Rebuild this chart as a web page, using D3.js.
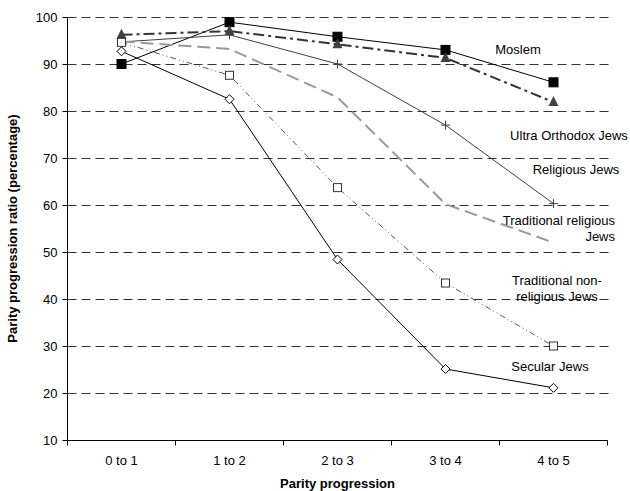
<!DOCTYPE html>
<html><head><meta charset="utf-8">
<script src="https://cdn.jsdelivr.net/npm/d3@7"></script>
<style>body{margin:0;background:#fff}svg{display:block;font-family:Arial,"Liberation Sans",sans-serif}</style>
</head><body><svg id="c" width="630" height="491"></svg>
<script>
const categories = ["0 to 1","1 to 2","2 to 3","3 to 4","4 to 5"];
const yTicks = [10,20,30,40,50,60,70,80,90,100];
const moslem = [90.0, 98.9, 95.8, 93.0, 86.1];
const ultraOrthodox = [96.2, 97.0, 94.2, 91.3, 81.9];
const religious = [94.7, 96.2, 90.0, 77.0, 60.3];
const traditionalReligious = [94.8, 93.2, 82.9, 60.2, 52.0];
const traditionalNonReligious = [94.6, 87.6, 63.7, 43.4, 30.0];
const secular = [92.7, 82.5, 48.4, 25.1, 21.1];

const series = [
  {name:"Moslem", values:moslem, stroke:"#000", width:1, dash:null, marker:"square", fill:"#000", mstroke:"#000", size:9},
  {name:"Ultra Orthodox Jews", values:ultraOrthodox, stroke:"#333", width:2, dash:"11,4,3,4", marker:"triangle", fill:"#404040", mstroke:"#404040", size:10},
  {name:"Religious Jews", values:religious, stroke:"#404040", width:1, dash:null, marker:"plus", fill:"none", mstroke:"#404040", size:9},
  {name:"Traditional religious Jews", values:traditionalReligious, stroke:"#999", width:2, dash:"13,6", marker:null},
  {name:"Traditional non-religious Jews", values:traditionalNonReligious, stroke:"#555", width:1, dash:"6,3,1,3,1,3", marker:"osquare", fill:"#fff", mstroke:"#333", size:8},
  {name:"Secular Jews", values:secular, stroke:"#000", width:1, dash:null, marker:"diamond", fill:"#fff", mstroke:"#000", size:9}
];

const labels = [
  {lines:["Moslem"], x:518, y:54, anchor:"middle"},
  {lines:["Ultra Orthodox Jews"], x:569, y:140, anchor:"middle"},
  {lines:["Religious Jews"], x:576, y:174, anchor:"middle"},
  {lines:["Traditional religious","Jews"], x:615, y:225, anchor:"end"},
  {lines:["Traditional non-","religious Jews"], x:557, y:285, anchor:"middle"},
  {lines:["Secular Jews"], x:550, y:371, anchor:"middle"}
];

const svg = d3.select("#c");
const L = 67.5, R = 607.5, T = 17, B = 440;
const x = d3.scaleBand().domain(categories).range([L, R]);
const y = d3.scaleLinear().domain([10,100]).range([B, T]);

// gridlines
svg.append("g").selectAll("line").data(yTicks.filter(d=>d>10)).join("line")
  .attr("x1", L).attr("x2", R+1)
  .attr("y1", d=>Math.round(y(d))+0.5).attr("y2", d=>Math.round(y(d))+0.5)
  .attr("stroke","#333").attr("stroke-width",1).attr("stroke-dasharray","9,5");

// axes
const yAxis = svg.append("g").attr("transform",`translate(${L},0)`)
  .call(d3.axisLeft(y).tickValues(yTicks).tickSize(5).tickPadding(5));
const xAxis = svg.append("g").attr("transform",`translate(0,${B+0.5})`)
  .call(d3.axisBottom(x).tickSize(0).tickPadding(15));
const bounds = categories.map(c=>x(c)).concat([R]);
svg.append("g").selectAll("line").data(bounds).join("line")
  .attr("x1",d=>d).attr("x2",d=>d).attr("y1",B+0.5).attr("y2",B+5.5)
  .attr("stroke","#000");
[yAxis,xAxis].forEach(a=>{
  a.selectAll("path").attr("stroke","#000");
  a.selectAll("line").attr("stroke","#000");
  a.selectAll("text").attr("font-size","13px").attr("fill","#000").attr("font-family","Arial, 'Liberation Sans', sans-serif");
});
xAxis.select(".domain").attr("d",`M${L},0H${R}`);
yAxis.select(".domain").attr("d",`M0,${T}V${B}`);

const cx = c => x(c) + x.bandwidth()/2;
const line = d3.line().x((d,i)=>cx(categories[i])).y(d=>y(d));

series.forEach(s=>{
  svg.append("path").datum(s.values).attr("d",line)
    .attr("fill","none").attr("stroke",s.stroke).attr("stroke-width",s.width)
    .attr("stroke-dasharray",s.dash).attr("stroke-linejoin","round");
});
series.forEach(s=>{
  if(!s.marker) return;
  const g = svg.append("g");
  s.values.forEach((v,i)=>{
    const px = cx(categories[i]), py = y(v), h = s.size/2;
    if(s.marker==="square"||s.marker==="osquare"){
      g.append("rect").attr("x",px-h).attr("y",py-h).attr("width",s.size).attr("height",s.size)
        .attr("fill",s.fill).attr("stroke",s.mstroke).attr("stroke-width",1);
    } else if(s.marker==="triangle"){
      g.append("path").attr("d",`M${px},${py-h-1}L${px+h},${py+h-1}L${px-h},${py+h-1}Z`).attr("fill",s.fill);
    } else if(s.marker==="plus"){
      g.append("path").attr("d",`M${px-h},${py}H${px+h}M${px},${py-h}V${py+h}`).attr("stroke",s.mstroke).attr("stroke-width",1);
    } else if(s.marker==="diamond"){
      g.append("path").attr("d",`M${px},${py-h}L${px+h},${py}L${px},${py+h}L${px-h},${py}Z`)
        .attr("fill",s.fill).attr("stroke",s.mstroke).attr("stroke-width",1);
    }
  });
});

labels.forEach(l=>{
  const t = svg.append("text").attr("text-anchor",l.anchor).attr("font-size","13px").attr("fill","#000");
  l.lines.forEach((ln,i)=>t.append("tspan").attr("x",l.x).attr("y",l.y+i*16).text(ln));
});

svg.append("text").attr("x",(L+R)/2).attr("y",488).attr("text-anchor","middle")
  .attr("font-size","13px").attr("font-weight","bold").text("Parity progression");
svg.append("text").attr("transform",`translate(17,${(T+B)/2}) rotate(-90)`).attr("text-anchor","middle")
  .attr("font-size","13px").attr("font-weight","bold").text("Parity progression ratio (percentage)");
</script></body></html>
